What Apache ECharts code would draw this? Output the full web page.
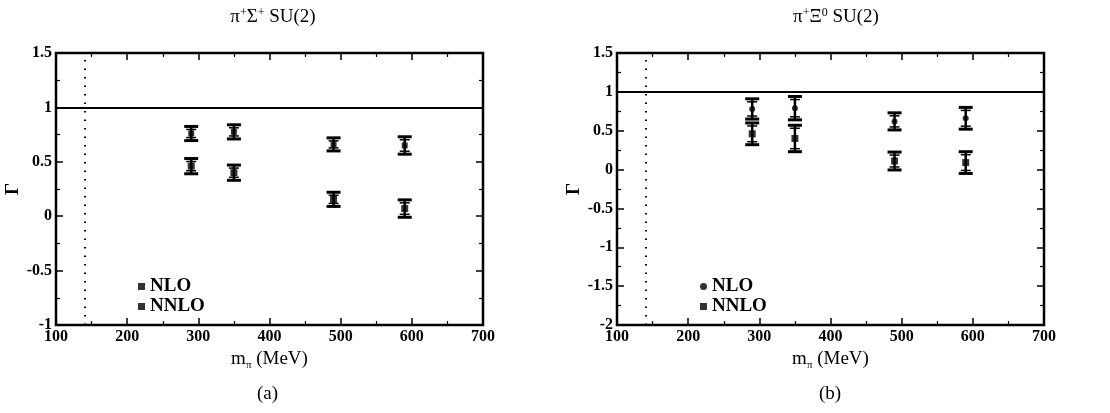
<!DOCTYPE html>
<html>
<head>
<meta charset="utf-8">
<script src="https://cdn.jsdelivr.net/npm/echarts@6/dist/echarts.min.js"></script>
<style>
  html, body { margin: 0; padding: 0; background: #fff; }
  #chart { width: 1110px; height: 413px; }
</style>
</head>
<body>
<div id="chart"></div>
<script>
// Pion masses (MeV) of the lattice ensembles
const pionMass = [290, 350, 490, 590];

// Panel (a): pi+ Sigma+ SU(2)
const sigmaNLO = [0.76, 0.775, 0.66, 0.65];
const sigmaNLOErr = [0.065, 0.065, 0.06, 0.08];
const sigmaNNLO = [0.46, 0.40, 0.155, 0.07];
const sigmaNNLOErr = [0.07, 0.07, 0.065, 0.08];

// Panel (b): pi+ Xi0 SU(2)
const xiNLO = [0.78, 0.79, 0.62, 0.66];
const xiNLOErr = [0.13, 0.15, 0.11, 0.14];
const xiNNLO = [0.46, 0.40, 0.11, 0.09];
const xiNNLOErr = [0.14, 0.17, 0.115, 0.14];

// Axis tick values
const xTicks = [100, 200, 300, 400, 500, 600, 700];
const yTicksA = [-1, -0.5, 0, 0.5, 1, 1.5];
const yTicksB = [-2, -1.5, -1, -0.5, 0, 0.5, 1, 1.5];
const physicalPionMass = 140;

const SERIF = '"Liberation Serif", "DejaVu Serif", serif';

function errRows(vals, errs) {
  return pionMass.map((m, i) => [m, vals[i] - errs[i], vals[i] + errs[i]]);
}
function pointRows(vals) {
  return pionMass.map((m, i) => [m, vals[i]]);
}

function renderErrorBar(params, api) {
  const x = api.value(0);
  const top = api.coord([x, api.value(2)]);
  const bot = api.coord([x, api.value(1)]);
  const hw = 7;
  const st = { stroke: '#000', lineWidth: 3 };
  return {
    type: 'group',
    children: [
      { type: 'line', shape: { x1: top[0], y1: top[1], x2: bot[0], y2: bot[1] }, style: { stroke: '#000', lineWidth: 2.5 } },
      { type: 'line', shape: { x1: top[0] - hw, y1: top[1], x2: top[0] + hw, y2: top[1] }, style: st },
      { type: 'line', shape: { x1: bot[0] - hw, y1: bot[1], x2: bot[0] + hw, y2: bot[1] }, style: st },
      { type: 'line', shape: { x1: top[0] - hw + 2, y1: top[1] + 3, x2: top[0] + hw - 2, y2: top[1] + 3 }, style: { stroke: '#000', lineWidth: 1.5 } },
      { type: 'line', shape: { x1: bot[0] - hw + 2, y1: bot[1] - 3, x2: bot[0] + hw - 2, y2: bot[1] - 3 }, style: { stroke: '#000', lineWidth: 1.5 } }
    ]
  };
}

const grids = [
  { left: 56, right: 627, top: 53, bottom: 88, show: true, borderColor: '#000', borderWidth: 2.5 },
  { left: 617, right: 66, top: 53, bottom: 88, show: true, borderColor: '#000', borderWidth: 2.5 }
];

function xAxisFor(gi, pos, labels) {
  return {
    type: 'value', gridIndex: gi, position: pos, min: xTicks[0], max: xTicks[xTicks.length - 1], interval: 100,
    name: labels ? '{m|m}{s|π}{m| (MeV)}' : '', nameLocation: 'middle', nameGap: 17,
    nameTextStyle: { rich: { m: { fontFamily: SERIF, fontSize: 19, color: '#000' }, s: { fontFamily: SERIF, fontSize: 11, color: '#000', verticalAlign: 'bottom', padding: [12, 0, 0, 0] } } },
    axisLine: { show: false, onZero: false },
    axisTick: { show: true, inside: true, length: 7, lineStyle: { color: '#000', width: 1.5 } },
    minorTick: { show: true, splitNumber: 2, length: 4, lineStyle: { color: '#000', width: 1.2 } },
    splitLine: { show: false },
    axisLabel: { show: labels, color: '#000', fontFamily: SERIF, fontWeight: 'bold', fontSize: 16, margin: 4 }
  };
}
function yAxisFor(gi, pos, labels, ticks) {
  return {
    type: 'value', gridIndex: gi, position: pos, min: ticks[0], max: ticks[ticks.length - 1], interval: 0.5,
    name: labels ? 'Γ' : '', nameLocation: 'middle', nameGap: 33, nameRotate: 90,
    nameTextStyle: { fontFamily: SERIF, fontSize: 19, fontWeight: 'bold', color: '#000' },
    axisLine: { show: false, onZero: false },
    axisTick: { show: true, inside: true, length: 7, lineStyle: { color: '#000', width: 1.5 } },
    minorTick: { show: true, splitNumber: 2, length: 4, lineStyle: { color: '#000', width: 1.2 } },
    splitLine: { show: false },
    axisLabel: { show: labels, color: '#000', fontFamily: SERIF, fontWeight: 'bold', fontSize: 16, margin: 4 }
  };
}

function panelSeries(gi, nlo, nloErr, nnlo, nnloErr, nloSymbol) {
  const ax = { xAxisIndex: gi * 2, yAxisIndex: gi * 2 };
  return [
    {
      type: 'line', ...ax, data: [], silent: true,
      markLine: {
        silent: true, symbol: 'none', label: { show: false }, animation: false,
        data: [
          { yAxis: 1, lineStyle: { color: '#000', width: 2, type: 'solid' } },
          { xAxis: physicalPionMass, lineStyle: { color: '#000', width: 2, type: [1.5, 7] } }
        ]
      }
    },
    { type: 'custom', ...ax, renderItem: renderErrorBar, encode: { x: 0, y: [1, 2] }, data: errRows(nlo, nloErr), silent: true },
    { type: 'custom', ...ax, renderItem: renderErrorBar, encode: { x: 0, y: [1, 2] }, data: errRows(nnlo, nnloErr), silent: true },
    { name: 'NLO', type: 'scatter', ...ax, symbol: nloSymbol, symbolSize: 6, itemStyle: { color: '#000' }, data: pointRows(nlo) },
    { name: 'NNLO', type: 'scatter', ...ax, symbol: 'rect', symbolSize: 7, itemStyle: { color: '#000' }, data: pointRows(nnlo) }
  ];
}

function legendFor(left, nloIcon) {
  return {
    left: left, top: 272, orient: 'vertical', itemGap: 1, itemWidth: 7, itemHeight: 7,
    selectedMode: false,
    textStyle: { fontFamily: SERIF, fontWeight: 'bold', fontSize: 19, color: '#000', padding: [0, 0, 0, 0] },
    data: [{ name: 'NLO', icon: nloIcon }, { name: 'NNLO', icon: 'rect' }]
  };
}

const titleRich = {
  t: { fontFamily: SERIF, fontSize: 19, fontWeight: 'normal', color: '#000' },
  u: { fontFamily: SERIF, fontSize: 12, fontWeight: 'normal', color: '#000', verticalAlign: 'top', padding: [0, 0, 9, 0] }
};

const chart = echarts.init(document.getElementById('chart'), null, { renderer: 'canvas' });
chart.setOption({
  animation: false,
  backgroundColor: '#fff',
  title: [
    { text: '{t|π}{u|+}{t|Σ}{u|+}{t| SU(2)}', left: 268, top: 2, textAlign: 'center', textStyle: { fontWeight: 'normal', rich: titleRich } },
    { text: '{t|π}{u|+}{t|Ξ}{u|0}{t| SU(2)}', left: 831, top: 2, textAlign: 'center', textStyle: { fontWeight: 'normal', rich: titleRich } }
  ],
  legend: [legendFor(133, 'rect'), legendFor(695, 'circle')],
  grid: grids,
  xAxis: [
    xAxisFor(0, 'bottom', true), xAxisFor(0, 'top', false),
    xAxisFor(1, 'bottom', true), xAxisFor(1, 'top', false)
  ],
  yAxis: [
    yAxisFor(0, 'left', true, yTicksA), yAxisFor(0, 'right', false, yTicksA),
    yAxisFor(1, 'left', true, yTicksB), yAxisFor(1, 'right', false, yTicksB)
  ],
  graphic: [
    { type: 'text', left: 257, top: 385, style: { text: '(a)', fontFamily: SERIF, fontSize: 19, fill: '#000' } },
    { type: 'text', left: 819, top: 385, style: { text: '(b)', fontFamily: SERIF, fontSize: 19, fill: '#000' } }
  ],
  series: [
    ...panelSeries(0, sigmaNLO, sigmaNLOErr, sigmaNNLO, sigmaNNLOErr, 'rect'),
    ...panelSeries(1, xiNLO, xiNLOErr, xiNNLO, xiNNLOErr, 'circle')
  ]
});
</script>
</body>
</html>
